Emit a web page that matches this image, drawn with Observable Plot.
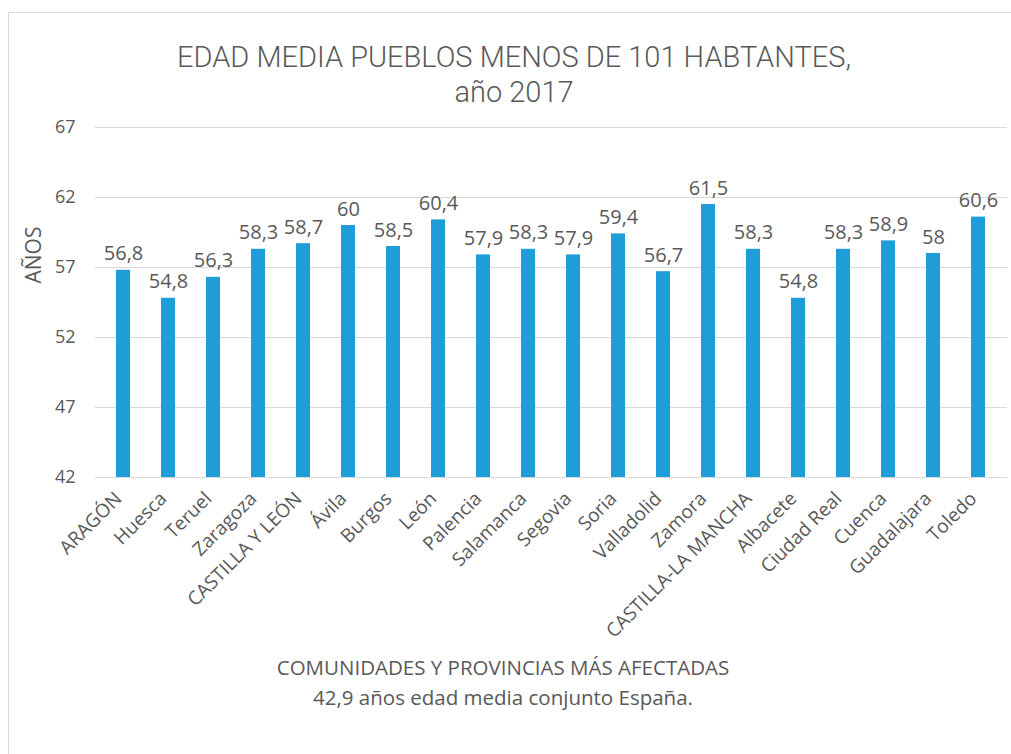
<!DOCTYPE html>
<html>
<head>
<meta charset="utf-8">
<script src="https://cdn.jsdelivr.net/npm/d3@7"></script>
<script src="https://cdn.jsdelivr.net/npm/@observablehq/plot@0.6"></script>
<style>
  html, body { margin: 0; padding: 0; background: #fff; }
  body { width: 1011px; height: 754px; position: relative; overflow: hidden; font-family: "Open Sans", sans-serif; color: #595959; }
  #frame { position: absolute; left: 8px; top: 12px; width: 1020px; height: 760px; border: 1px solid #d9d9d9; box-sizing: border-box; }
  #title { position: absolute; left: 0; top: 40px; width: 1028px; text-align: center; font-family: Roboto, sans-serif; font-weight: 300; font-size: 29px; line-height: 35px; color: #595959; }
  #ylabel { position: absolute; left: 33px; top: 255px; transform: translate(-50%, -50%) rotate(-90deg); font-size: 21px; white-space: nowrap; }
  #chart { position: absolute; left: 0; top: 110px; }
  #caption { position: absolute; left: 0; top: 652px; width: 1006px; text-align: center; font-size: 20.5px; line-height: 30px; }
</style>
</head>
<body>
<div id="frame"></div>
<div id="title">EDAD MEDIA PUEBLOS MENOS DE 101 HABTANTES,<br>año 2017</div>
<div id="ylabel">AÑOS</div>
<div id="chart"></div>
<div id="caption">COMUNIDADES Y PROVINCIAS MÁS AFECTADAS<br>42,9 años edad media conjunto España.</div>
<script>
const categories = ["ARAGÓN", "Huesca", "Teruel", "Zaragoza", "CASTILLA Y LEÓN", "Ávila", "Burgos", "León", "Palencia", "Salamanca", "Segovia", "Soria", "Valladolid", "Zamora", "CASTILLA-LA MANCHA", "Albacete", "Ciudad Real", "Cuenca", "Guadalajara", "Toledo"];
const values = [56.8, 54.8, 56.3, 58.3, 58.7, 60, 58.5, 60.4, 57.9, 58.3, 57.9, 59.4, 56.7, 61.5, 58.3, 54.8, 58.3, 58.9, 58, 60.6];
const yTicks = [42, 47, 52, 57, 62, 67];

const data = categories.map((c, i) => ({ region: c, value: values[i] }));
const fmt = v => String(v).replace(".", ",");

const chart = Plot.plot({
  width: 1011,
  height: 540,
  marginLeft: 95,
  marginRight: 4,
  marginTop: 17,
  marginBottom: 173,
  style: { fontFamily: "Open Sans, sans-serif", color: "#595959", background: "transparent" },
  x: { domain: categories, paddingInner: 0.68, paddingOuter: 0.34, label: null },
  y: { domain: [42, 67], label: null },
  marks: [
    Plot.ruleY(yTicks, { stroke: "#d9d9d9", strokeWidth: 1 }),
    Plot.barY(data, { x: "region", y1: 42, y2: "value", fill: "#1f9dd9" }),
    Plot.text(data, { x: "region", y: "value", text: d => fmt(d.value), dy: -10, lineAnchor: "bottom", fontSize: 20, fill: "#595959" }),
    Plot.axisY({ ticks: yTicks, tickSize: 0, tickPadding: 20, fontSize: 18, label: null, tickFormat: d => d }),
    Plot.axisX({ tickSize: 0, tickPadding: 18, dx: -5, tickRotate: -45, fontSize: 19, label: null })
  ]
});
document.getElementById("chart").appendChild(chart);
</script>
</body>
</html>
